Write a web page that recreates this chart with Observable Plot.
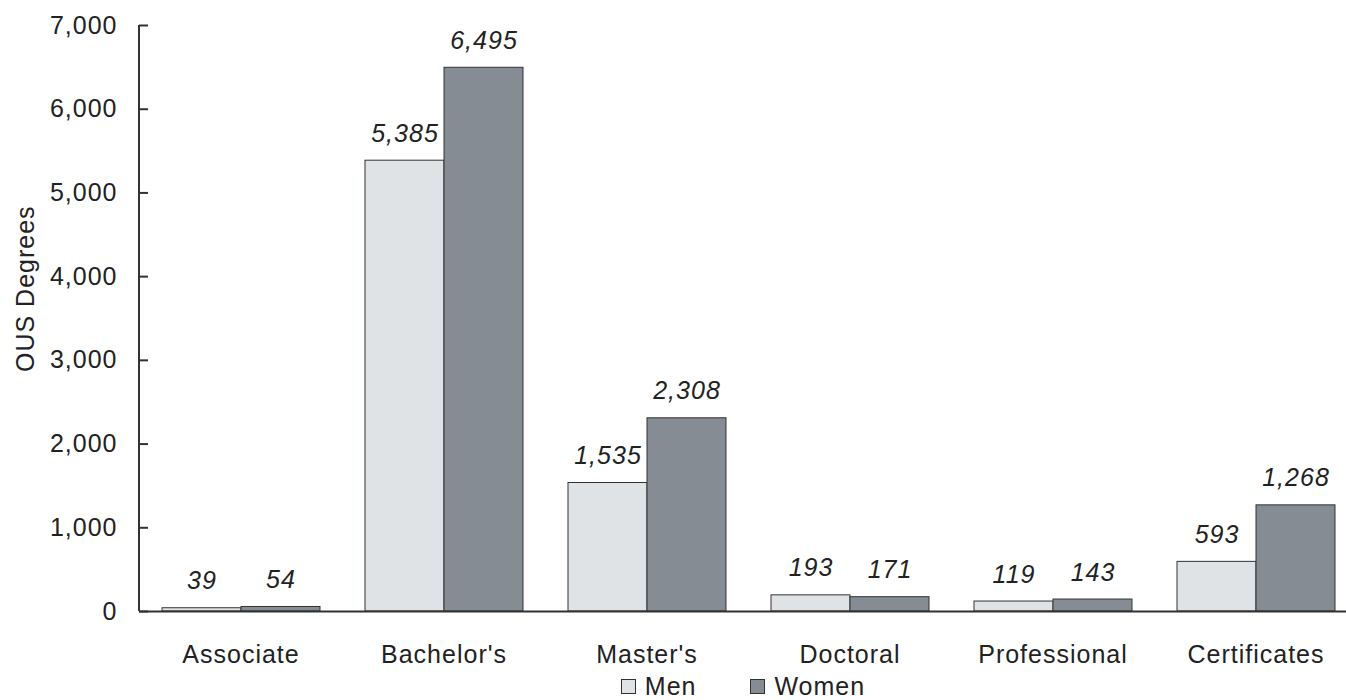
<!DOCTYPE html>
<html>
<head>
<meta charset="utf-8">
<script src="https://cdn.jsdelivr.net/npm/d3@7"></script>
<script src="https://cdn.jsdelivr.net/npm/@observablehq/plot@0.6"></script>
<style>
  html, body { margin: 0; padding: 0; background: #fff; }
  body { width: 1346px; height: 700px; overflow: hidden; font-family: "Liberation Sans", Arial, sans-serif; }
  #legend { display: flex; justify-content: center; align-items: center; padding-left: 140px; height: 28px; margin-top: 4px; font-size: 25px; color: #222; letter-spacing: 1px; }
  #legend .item { display: flex; align-items: center; margin: 0 27px; }
  #legend .sw { width: 13px; height: 13px; border: 1px solid #333; margin-right: 9px; }
</style>
</head>
<body>
<div id="chart"></div>
<div id="legend"></div>
<script>
const categories = ["Associate", "Bachelor's", "Master's", "Doctoral", "Professional", "Certificates"];
const series = ["Men", "Women"];
const men = [39, 5385, 1535, 193, 119, 593];
const women = [54, 6495, 2308, 171, 143, 1268];
const yTicks = [0, 1000, 2000, 3000, 4000, 5000, 6000, 7000];
const colors = ["#dfe3e6", "#868c93"];

const data = [];
categories.forEach((c, i) => {
  data.push({category: c, sex: "Men", value: men[i]});
  data.push({category: c, sex: "Women", value: women[i]});
});

const fmt = d3.format(",");

const plot = Plot.plot({
  width: 1346,
  height: 668,
  marginLeft: 139,
  marginRight: -11,
  marginTop: 25,
  marginBottom: 57,
  style: {fontFamily: "'Liberation Sans', Arial, sans-serif", color: "#222", background: "#fff"},
  fx: {domain: categories, padding: 0, label: null},
  x: {domain: series, paddingInner: 0, paddingOuter: 0.27, axis: null},
  y: {domain: [0, 7000], label: null},
  color: {domain: series, range: colors},
  marks: [
    Plot.barY(data, {fx: "category", x: "sex", y: "value", fill: "sex", stroke: "#333", strokeWidth: 1}),
    Plot.ruleY([0], {stroke: "#333", strokeWidth: 2}),
    Plot.text(data, {fx: "category", x: "sex", y: "value", text: d => fmt(d.value), dy: -27,
      fontSize: 25, fontStyle: "italic", fill: "#222"}),
    Plot.axisY({ticks: yTicks, tickFormat: fmt, tickSize: -9, tickPadding: 31, fontSize: 25,
      stroke: "#333", strokeWidth: 2, label: null}),
    Plot.axisFx({anchor: "bottom", tickSize: 0, tickPadding: 34, fontSize: 25, label: null})
  ]
});

// y-axis line and label
const svg = d3.select(plot);
const yScale = plot.scale("y");
svg.append("line")
  .attr("x1", 139).attr("x2", 139)
  .attr("y1", yScale.apply(7000)).attr("y2", yScale.apply(0))
  .attr("stroke", "#333").attr("stroke-width", 2);
svg.append("text")
  .attr("transform", `translate(34,${yScale.apply(3850)}) rotate(-90)`)
  .attr("text-anchor", "middle")
  .attr("font-size", 25)
  .attr("fill", "#222")
  .text("OUS Degrees");
svg.selectAll("text").style("letter-spacing", "1px");

document.getElementById("chart").appendChild(plot);

const legend = document.getElementById("legend");
series.forEach((s, i) => {
  const item = document.createElement("div");
  item.className = "item";
  const sw = document.createElement("div");
  sw.className = "sw";
  sw.style.background = colors[i];
  const label = document.createElement("span");
  label.textContent = s;
  item.appendChild(sw);
  item.appendChild(label);
  legend.appendChild(item);
});
</script>
</body>
</html>
